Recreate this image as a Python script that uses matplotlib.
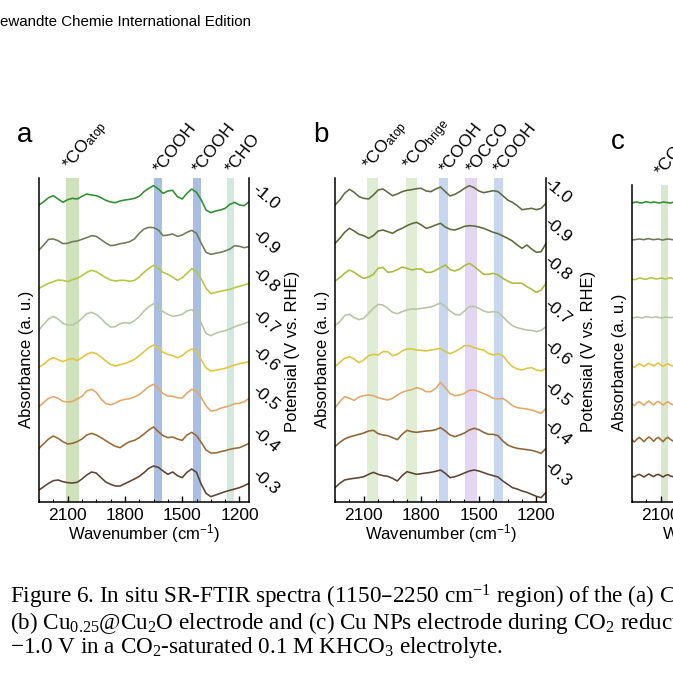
import numpy as np
import matplotlib
matplotlib.use("Agg")
import matplotlib.pyplot as plt
import matplotlib.transforms as mtransforms
from matplotlib.ticker import MultipleLocator

plt.rcParams["font.family"] = ["Liberation Sans", "DejaVu Sans"]
plt.rcParams["mathtext.default"] = "regular"

# ---------------------------------------------------------------- data ----
WAVENUMBER = [2250, 2225, 2200, 2175, 2150, 2125, 2100, 2075, 2050, 2025,
              2000, 1975, 1950, 1925, 1900, 1875, 1850, 1825, 1800, 1775,
              1750, 1725, 1700, 1675, 1650, 1625, 1600, 1575, 1550, 1525,
              1500, 1475, 1450, 1425, 1400, 1375, 1350, 1325, 1300, 1275,
              1250, 1225, 1200, 1175, 1150]
POTENTIALS = ["-1.0", "-0.9", "-0.8", "-0.7", "-0.6", "-0.5", "-0.4", "-0.3"]

# panel a (absorbance, arbitrary units, relative to the first point)
A_10 = [0, 10, 22, 28, 18, 8, 16, 20, 18, 26, 33, 30, 28, 22, 14, 9, 7, 12, 15, 17, 20, 26, 40, 50,
        58, 48, 35, 42, 44, 25, 18, 35, 48, 38, 15, -15, -23, -18, -15, -10, 2, 8, 0, -2, 10]
A_09 = [0, 15, 32, 33, 28, 19, 20, 25, 27, 32, 37, 43, 41, 31, 21, 13, 15, 19, 21, 25, 33, 50, 63, 68,
        67, 60, 43, 45, 48, 41, 45, 53, 59, 50, 20, -7, -13, -10, -7, -3, 3, 13, 11, 7, 10]
A_08 = [0, 8, 15, 20, 25, 24, 20, 26, 30, 38, 48, 54, 50, 41, 32, 25, 22, 24, 24, 21, 24, 34, 48, 60,
        69, 60, 48, 42, 34, 24, 32, 45, 59, 50, 28, 0, -16, -12, -9, -6, -3, 2, 6, 10, 15]
A_07 = [0, 17, 33, 41, 33, 20, 15, 15, 22, 35, 49, 53, 47, 35, 20, 9, 10, 19, 22, 20, 28, 40, 57, 70,
        79, 67, 55, 47, 41, 43, 47, 57, 61, 50, 20, -10, -17, -10, -5, -2, 3, 10, 15, 19, 25]
A_06 = [0, 9, 22, 29, 23, 17, 23, 27, 20, 29, 39, 45, 41, 31, 19, 9, 4, 8, 12, 17, 24, 35, 47, 59,
        67, 57, 45, 39, 35, 29, 35, 47, 55, 49, 22, -1, -11, -9, -6, -3, 2, 7, 11, 14, 17]
A_05 = [0, 13, 25, 30, 25, 16, 14, 16, 23, 31, 47, 52, 43, 23, 9, 6, 11, 18, 22, 24, 29, 36, 48, 60,
        67, 55, 39, 32, 31, 27, 26, 41, 52, 47, 27, 2, -13, -11, -5, -1, 3, 9, 10, 15, 25]
A_04 = [0, 14, 28, 37, 30, 20, 13, 15, 20, 28, 40, 45, 40, 32, 23, 14, 6, 2, 12, 20, 24, 32, 43, 55,
        64, 50, 38, 32, 34, 28, 24, 40, 48, 38, 18, -5, -14, -14, -10, -7, -3, 0, 2, 8, 15]
A_03 = [0, 10, 20, 28, 30, 25, 22, 21, 23, 33, 45, 54, 51, 37, 24, 17, 12, 12, 19, 26, 33, 41, 52, 65,
        72, 68, 57, 47, 54, 43, 37, 53, 63, 53, 17, -10, -20, -15, -10, -5, -1, 3, 7, 13, 20]
OFFSETS_A = [891, 756, 641, 516, 404, 286, 161, 36]

# panel b
B_10 = [0, 15, 35, 47, 38, 25, 20, 18, 30, 45, 48, 38, 28, 33, 40, 44, 46, 49, 50, 42, 40, 48, 54, 40,
        27, 32, 40, 50, 58, 52, 42, 37, 40, 43, 40, 28, 15, 8, -2, -14, -12, -10, -14, -10, 5]
B_09 = [0, 15, 33, 45, 37, 27, 23, 15, 23, 37, 40, 35, 30, 39, 45, 53, 59, 63, 55, 45, 49, 55, 60, 49,
        42, 40, 45, 51, 53, 52, 49, 45, 39, 33, 29, 22, 15, 7, -5, -15, -5, -17, -27, -25, 0]
B_08 = [0, 10, 23, 33, 26, 16, 8, 12, 20, 38, 41, 26, 28, 34, 42, 38, 33, 36, 36, 26, 26, 32, 40, 48,
        34, 30, 36, 46, 53, 44, 32, 20, 20, 23, 18, 8, 0, -7, -6, -7, -17, -25, -34, -27, -7]
B_07 = [0, 12, 30, 34, 24, 18, 22, 37, 52, 64, 62, 52, 40, 36, 42, 47, 50, 50, 52, 54, 56, 62, 68, 57,
        44, 34, 32, 44, 57, 58, 52, 44, 40, 42, 40, 27, 12, 0, -6, -10, -13, -14, -18, -14, -3]
B_06 = [0, 13, 25, 30, 23, 12, 20, 33, 37, 35, 45, 45, 33, 37, 47, 53, 53, 50, 49, 47, 50, 52, 55, 45,
        39, 45, 53, 63, 63, 57, 53, 50, 40, 35, 39, 33, 15, 0, -7, -10, -5, -3, -10, -13, -5]
B_05 = [0, 18, 33, 28, 22, 32, 36, 38, 36, 30, 26, 23, 28, 38, 46, 51, 54, 60, 56, 48, 48, 58, 76, 60,
        42, 36, 38, 43, 52, 53, 48, 42, 36, 28, 26, 28, 18, 6, 0, -2, -4, -7, -12, -17, -2]
B_04 = [0, 13, 23, 29, 33, 37, 41, 47, 49, 39, 35, 33, 27, 21, 37, 49, 45, 43, 45, 47, 48, 51, 57, 47,
        35, 30, 35, 41, 50, 55, 51, 43, 37, 37, 33, 17, 5, -1, -5, -7, -9, -11, -15, -20, -5]
B_03 = [0, 13, 23, 26, 28, 30, 33, 40, 46, 40, 36, 34, 28, 20, 36, 48, 44, 40, 42, 44, 46, 49, 53, 43,
        30, 33, 38, 44, 50, 53, 50, 45, 40, 36, 32, 20, 10, 0, -4, -10, -14, -20, -26, -30, -14]
OFFSETS_B = [891, 776, 663, 529, 406, 283, 166, 43]

# panel c (only the high-wavenumber end is in view)
WAVENUMBER_C = [2250, 2237.5, 2225, 2212.5, 2200, 2187.5, 2175, 2162.5, 2150, 2137.5, 2125,
                2112.5, 2100, 2087.5, 2075, 2062.5, 2050, 2037.5, 2025, 2012.5, 2000]
C_10 = [0, 2, 3, 1, 0, 2, 4, 2, 1, 3, 2, 0, 1, 3, 2, 1, 0, 2, 3, 1, 0]
C_09 = [0, 1, 2, 3, 2, 1, 3, 4, 2, 1, 2, 3, 1, 0, 2, 3, 2, 1, 2, 1, 0]
C_08 = [0, -2, 0, 3, 2, 0, -1, 2, 4, 2, 0, 1, 3, 2, 0, 2, 4, 1, 0, 2, 1]
C_07 = [0, 1, 3, 2, 0, 2, 4, 3, 1, 2, 4, 2, 0, 1, 3, 2, 1, 2, 3, 1, 0]
C_06 = [0, -4, 2, 6, 3, -2, 4, 8, 4, 0, 5, 9, 3, -1, 4, 7, 2, 0, 5, 6, 1]
C_05 = [0, -5, 3, 7, 1, -4, 4, 9, 3, -3, 5, 8, 2, -3, 3, 7, 1, -2, 4, 6, 0]
C_04 = [0, -6, 2, 8, 2, -5, 3, 9, 4, -4, 4, 8, 1, -5, 4, 8, 2, -3, 3, 7, 1]
C_03 = [0, -3, 2, 5, 1, -3, 2, 6, 2, -2, 3, 5, 1, -3, 2, 4, 0, -2, 3, 4, 0]
OFFSETS_C = [897, 786, 669, 552, 408, 294, 186, 78]

# assignment bands: (high, low) wavenumber
BANDS_A = [(2110, 2040), (1648, 1608), (1441, 1401), (1266, 1228)]
LABELS_A = [r"*CO$_{atop}$", "*COOH", "*COOH", "*CHO"]
BANDS_B = [(2085, 2027), (1880, 1821), (1706, 1659), (1572, 1508), (1420, 1376)]
LABELS_B = [r"*CO$_{atop}$", r"*CO$_{brige}$", "*COOH", "*OCCO", "*COOH"]
BANDS_C = [(2100, 2063)]
LABELS_C = [r"*CO$_{atop}$"]

# ---------------------------------------------------------------- style ---
COLORS_A = ["#2f8f2f", "#6e7a56", "#b5c640", "#b6c6a2", "#e2c53c", "#e6a666", "#9a6834", "#5e4430"]
COLORS_B = ["#5e6b40", "#5c6a36", "#aabb3a", "#b8c4a2", "#dcc640", "#e2a668", "#8f6434", "#5e4430"]
BANDCOL_A = ["#cfe2bb", "#a9bee2", "#a9bee2", "#d3e9df"]
BANDCOL_B = ["#deedd3", "#deedd3", "#c8d7ef", "#e4d5f3", "#c8d7ef"]
BANDCOL_C = ["#d9e9d0"]

W = 673.0
fig = plt.figure(figsize=(6.73, 6.73), dpi=100)
fig.patch.set_facecolor("white")


def box(left, top, right, bottom):
    return [left / W, 1 - bottom / W, (right - left) / W, (bottom - top) / W]


def panel(rect, ytop, wn, spectra, offsets, colors, bands, band_cols, labels,
          letter, pot_dx, pot_dy, right_label=True):
    ax = fig.add_axes(box(*rect))
    ax.set_xlim(2250, 1150)
    ax.set_ylim(0, ytop)
    for (hi, lo), c in zip(bands, band_cols):
        ax.axvspan(lo, hi, color=c, lw=0, zorder=0)
    for vals, off, c in zip(spectra, offsets, colors):
        ax.plot(wn, np.asarray(vals) + off, color=c, lw=1.15, zorder=2)

    ax.spines["top"].set_visible(False)
    for s in ("left", "right", "bottom"):
        ax.spines[s].set_linewidth(1.1)
    ax.set_yticks([])
    ax.xaxis.set_major_locator(MultipleLocator(300))
    ax.xaxis.set_minor_locator(MultipleLocator(75))
    ax.tick_params(axis="x", which="major", direction="in", length=4, width=1.0,
                   labelsize=12.5, pad=4)
    ax.tick_params(axis="x", which="minor", direction="in", length=2.5, width=0.8)
    ax.set_xlabel("Wavenumber (cm$^{-1}$)", fontsize=12, labelpad=0)
    ax.set_ylabel("Absorbance (a. u.)", fontsize=12)
    ax.yaxis.set_label_coords(-0.025, 0.44)

    # band assignments above the frame
    tb = mtransforms.blended_transform_factory(ax.transData, ax.transAxes)
    for (hi, lo), lab in zip(bands, labels):
        tr = mtransforms.offset_copy(tb, fig=fig, x=5, y=2, units="dots")
        ax.text((hi + lo) / 2, 1.0, lab, transform=tr, rotation=52,
                rotation_mode="anchor", ha="left", va="bottom", fontsize=12.5)

    # potentials on the right
    if right_label:
        tp = mtransforms.blended_transform_factory(ax.transAxes, ax.transData)
        tp = mtransforms.offset_copy(tp, fig=fig, x=pot_dx, y=0, units="dots")
        for p, off in zip(POTENTIALS, offsets):
            ax.text(1.0, off + pot_dy, p, transform=tp, rotation=-40,
                    rotation_mode="anchor", ha="center", va="center", fontsize=12.5)
        ax.text(1.0, 0.465, "Potensial (V vs. RHE)", transform=mtransforms.offset_copy(
            ax.transAxes, fig=fig, x=43, y=0, units="dots"),
            rotation=90, ha="center", va="center", fontsize=12)

    ax.text(0, 1, letter, transform=mtransforms.offset_copy(
        ax.transAxes, fig=fig, x=-14, y=43, units="dots"),
        ha="center", va="center", fontsize=20)
    return ax


panel((39, 178, 249, 502), 972, WAVENUMBER,
      [A_10, A_09, A_08, A_07, A_06, A_05, A_04, A_03], OFFSETS_A, COLORS_A,
      BANDS_A, BANDCOL_A, LABELS_A, "a", 17, 24)
panel((335, 178, 546, 502), 972, WAVENUMBER,
      [B_10, B_09, B_08, B_07, B_06, B_05, B_04, B_03], OFFSETS_B, COLORS_B,
      BANDS_B, BANDCOL_B, LABELS_B, "b", 12, 40)
panel((632, 185, 843, 502), 951, WAVENUMBER_C,
      [C_10, C_09, C_08, C_07, C_06, C_05, C_04, C_03], OFFSETS_C, COLORS_A,
      BANDS_C, BANDCOL_C, LABELS_C, "c", 0, 0, right_label=False)

# ---------------------------------------------------------------- page text
fig.text(0.5 / W, 1 - 22 / W, "ewandte Chemie International Edition",
         ha="left", va="center", fontsize=10.9)

CAPTION = [
    "Figure 6. In situ SR-FTIR spectra (1150–2250 cm$^{-1}$ region) of the (a) Cu",
    "(b) Cu$_{0.25}$@Cu$_{2}$O electrode and (c) Cu NPs electrode during CO$_{2}$ reduction at",
    "−1.0 V in a CO$_{2}$-saturated 0.1 M KHCO$_{3}$ electrolyte.",
]
for i, line in enumerate(CAPTION):
    fig.text(10 / W, 1 - (597 + 25.5 * i) / W, line, ha="left", va="center",
             fontsize=16.7, family=["Liberation Serif", "DejaVu Serif"])

fig.savefig("out.png", dpi=100, facecolor="white")
